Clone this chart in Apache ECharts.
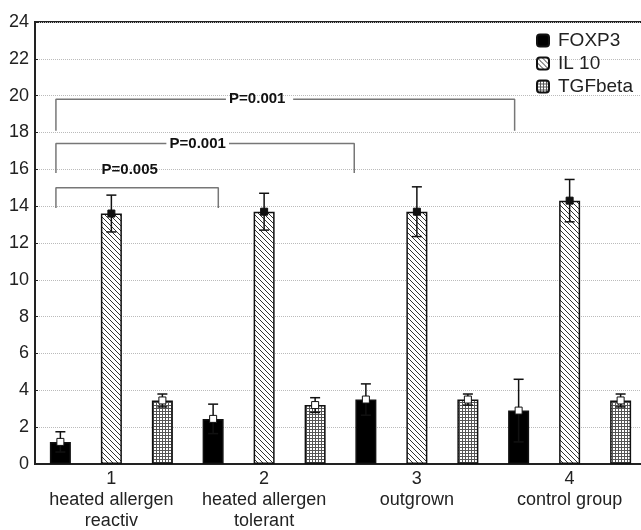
<!DOCTYPE html>
<html>
<head>
<meta charset="utf-8">
<style>
  html, body { margin: 0; padding: 0; background: #fff; }
  #chart { width: 641px; height: 530px; }
</style>
<script src="https://cdn.jsdelivr.net/npm/echarts@6/dist/echarts.min.js"></script>
</head>
<body>
<div id="chart"></div>
<script>
// categories and values
var categories = ['1\nheated allergen\nreactiv', '2\nheated allergen\ntolerant', '3\noutgrown', '4\ncontrol group']
var foxp3 = [1.2, 2.45, 3.5, 2.9]
var foxp3Err = [0.55, 0.8, 0.85, 1.7]
var il10 = [13.6, 13.7, 13.7, 14.3]
var il10Err = [1.0, 1.0, 1.35, 1.15]
var tgf = [3.45, 3.2, 3.5, 3.45]
var tgfErr = [0.35, 0.4, 0.3, 0.35]

// significance brackets, in (category units, value) pairs; null breaks the line for the text
var bracketLow = [[0.137, 13.9], [0.137, 15.0], [1.2, 15.0], [1.2, 13.9]]
var bracketMid = [[0.137, 15.8], [0.137, 17.4], [0.86, 17.4], null, [1.27, 17.4], [2.09, 17.4], [2.09, 15.8]]
var bracketTop = [[0.137, 18.1], [0.137, 19.8], [1.25, 19.8], null, [1.69, 19.8], [3.14, 19.8], [3.14, 18.1]]
var pLabels = [
  ['P=0.005', 0.62, 15.95],
  ['P=0.001', 1.065, 17.4],
  ['P=0.001', 1.455, 19.8],
]

var FONT = 'Liberation Sans'
var BAR_W = 21
var BAR_GAP = 30

function stripePattern() {
  var c = document.createElement('canvas')
  c.width = c.height = 5
  var ctx = c.getContext('2d')
  ctx.fillStyle = '#fff'
  ctx.fillRect(0, 0, 5, 5)
  ctx.strokeStyle = '#333'
  ctx.lineWidth = 1
  ctx.beginPath()
  ctx.moveTo(-1, -1); ctx.lineTo(6, 6)
  ctx.moveTo(4, -1); ctx.lineTo(6, 1)
  ctx.moveTo(-1, 4); ctx.lineTo(1, 6)
  ctx.stroke()
  return { image: c, repeat: 'repeat' }
}

function meshPattern() {
  var c = document.createElement('canvas')
  c.width = c.height = 3
  var ctx = c.getContext('2d')
  ctx.fillStyle = '#fff'
  ctx.fillRect(0, 0, 3, 3)
  ctx.fillStyle = '#555'
  ctx.fillRect(0, 0, 3, 1)
  ctx.fillRect(0, 0, 1, 3)
  return { image: c, repeat: 'repeat' }
}

// error bar + mean marker drawn over each bar
function errorSeries(name, means, errs, slot, markerFill) {
  return {
    name: name + ' err',
    type: 'custom',
    z: 10,
    data: means.map(function (m, i) { return [i, m, errs[i]] }),
    renderItem: function (params, api) {
      var ci = api.value(0)
      var m = api.value(1)
      var e = api.value(2)
      var c = api.coord([ci, m])
      var top = api.coord([ci, m + e])
      var bot = api.coord([ci, m - e])
      var x = c[0] + slot * (BAR_W + BAR_GAP)
      var ls = { stroke: '#111', lineWidth: 1.5 }
      return {
        type: 'group',
        children: [
          { type: 'line', shape: { x1: x, y1: bot[1], x2: x, y2: top[1] }, style: ls },
          { type: 'line', shape: { x1: x - 5, y1: top[1], x2: x + 5, y2: top[1] }, style: ls },
          { type: 'line', shape: { x1: x - 5, y1: bot[1], x2: x + 5, y2: bot[1] }, style: ls },
          { type: 'rect', shape: { x: x - 3.5, y: c[1] - 3.5, width: 7, height: 7 },
            style: { fill: markerFill, stroke: '#111', lineWidth: 1 } },
        ],
      }
    },
  }
}

var chart = echarts.init(document.getElementById('chart'))

var barStyle = function (color) {
  return { color: color, borderColor: '#111', borderWidth: 1.5 }
}

var bracketLine = function (data) {
  return {
    type: 'line', xAxisIndex: 1, data: data, symbol: 'none', connectNulls: false, z: 5,
    lineStyle: { color: '#777', width: 1.5 },
  }
}

chart.setOption({
  backgroundColor: '#fff',
  animation: false,
  textStyle: { fontFamily: FONT },
  grid: {
    left: 35, right: -5, top: 22, bottom: 66,
    outerBoundsMode: 'none',
    show: true, borderColor: '#222', borderWidth: 2,
  },
  legend: {
    orient: 'vertical',
    left: 536,
    top: 31,
    padding: 0,
    itemWidth: 12,
    itemHeight: 12,
    itemGap: 4,
    data: ['FOXP3', 'IL 10', 'TGFbeta'],
    textStyle: { fontSize: 19, color: '#222', fontFamily: FONT, padding: [0, 0, 0, 4] },
  },
  xAxis: [{
    type: 'category',
    data: categories,
    axisLine: { lineStyle: { color: '#222', width: 2 } },
    axisTick: { show: false },
    axisLabel: { interval: 0, color: '#222', fontSize: 18, lineHeight: 21, margin: 5, fontFamily: FONT },
  }, {
    type: 'value',
    min: 0,
    max: 4,
    show: false,
  }],
  yAxis: {
    type: 'value',
    min: 0,
    max: 24,
    interval: 2,
    axisLine: { show: true, lineStyle: { color: '#222', width: 2 } },
    axisTick: { show: true, inside: true, length: 3, lineStyle: { color: '#222' } },
    axisLabel: { color: '#222', fontSize: 18, margin: 6, fontFamily: FONT },
    splitLine: { lineStyle: { color: '#bbb', type: 'dotted', width: 1 } },
  },
  series: [
    { name: 'FOXP3', type: 'bar', data: foxp3, barWidth: BAR_W, barGap: (BAR_GAP / BAR_W * 100) + '%',
      itemStyle: barStyle('#000') },
    { name: 'IL 10', type: 'bar', data: il10, barWidth: BAR_W,
      itemStyle: barStyle(stripePattern()) },
    { name: 'TGFbeta', type: 'bar', data: tgf, barWidth: BAR_W,
      itemStyle: barStyle(meshPattern()) },
    errorSeries('FOXP3', foxp3, foxp3Err, -1, '#fff'),
    errorSeries('IL 10', il10, il10Err, 0, '#111'),
    errorSeries('TGFbeta', tgf, tgfErr, 1, '#fff'),
    bracketLine(bracketLow),
    bracketLine(bracketMid),
    bracketLine(bracketTop),
    {
      type: 'custom',
      xAxisIndex: 1,
      z: 6,
      data: pLabels.map(function (d) { return [d[1], d[2]] }),
      renderItem: function (params, api) {
        var p = api.coord([api.value(0), api.value(1)])
        return {
          type: 'text',
          x: p[0],
          y: p[1],
          style: {
            text: pLabels[params.dataIndex][0],
            fill: '#111',
            font: 'bold 15px "' + FONT + '"',
            align: 'center',
            verticalAlign: 'middle',
          },
        }
      },
    },
  ],
})
</script>
</body>
</html>
